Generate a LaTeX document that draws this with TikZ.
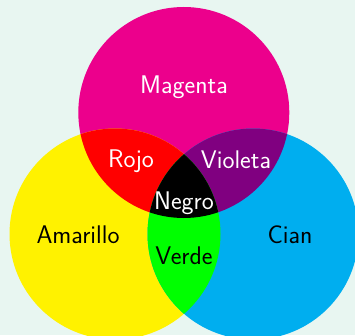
\documentclass[tikz,border=0pt]{standalone}
\usepackage{tikz}
\definecolor{fondo}{HTML}{E8F6F1}
\definecolor{cmag}{HTML}{EC008C}
\definecolor{camar}{HTML}{FFF200}
\definecolor{ccian}{HTML}{00AEEF}
\definecolor{crojo}{HTML}{FF0000}
\definecolor{cviol}{HTML}{800080}
\definecolor{cverde}{HTML}{00FF00}
\tikzset{
  lab/.style={font=\sffamily\fontsize{25.5}{28}\selectfont, anchor=base, inner sep=0pt},
  claro/.style={lab, text=white},
  oscuro/.style={lab, text=black},
}
\def\rad{105.5}

\begin{document}
\begin{tikzpicture}[x=1pt,y=1pt]
  \useasboundingbox (0,0) rectangle (355,335);
  \clip (0,0) rectangle (355,335);
  \fill[fondo] (0,0) rectangle (355,335);

  \coordinate (M) at (183.8,222.5);
  \coordinate (Y) at (115,101);
  \coordinate (C) at (253,101);

  \fill[cmag] (M) circle (\rad);
  \fill[camar] (Y) circle (\rad);
  \fill[ccian] (C) circle (\rad);

  \begin{scope}
    \clip (M) circle (\rad);
    \fill[crojo] (Y) circle (\rad);
    \fill[cviol] (C) circle (\rad);
  \end{scope}
  \begin{scope}
    \clip (Y) circle (\rad);
    \fill[cverde] (C) circle (\rad);
    \clip (M) circle (\rad);
    \fill[black] (C) circle (\rad);
  \end{scope}

  \node[claro] (magenta) at (184,241) {Magenta};
  \node[claro] (rojo) at (131,168) {Rojo};
  \node[claro] (violeta) at (236,167) {Violeta};
  \node[claro] (negro) at (184,126) {Negro};
  \node[oscuro] (amarillo) at (78,92) {Amarillo};
  \node[oscuro] (cian) at (290,92) {Cian};
  \node[oscuro] (verde) at (184,71) {Verde};
\end{tikzpicture}
\end{document}
